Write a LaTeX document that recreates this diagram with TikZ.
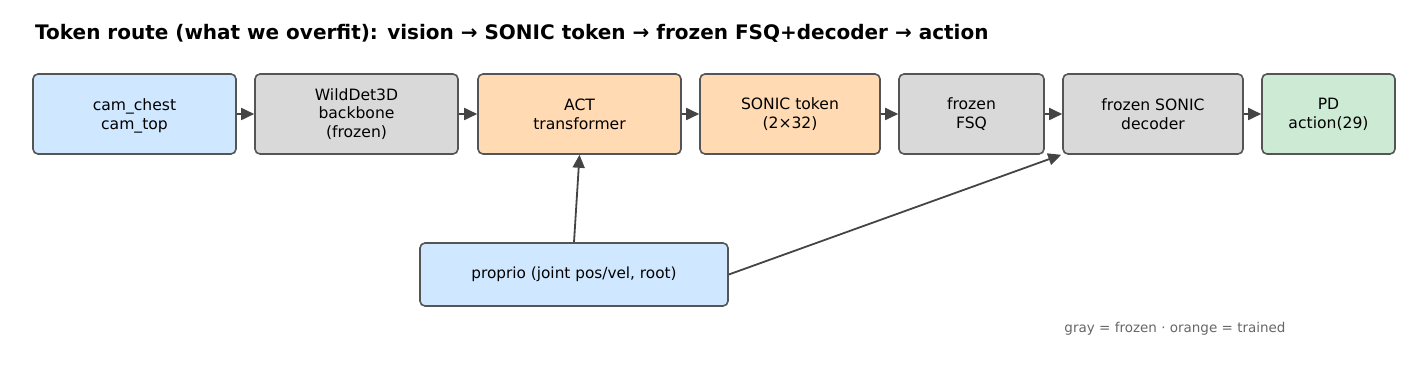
\documentclass[tikz,border=0pt]{standalone}
\usepackage{fontspec}
\setmainfont{DejaVu Sans}
\usepackage{xcolor}
\usetikzlibrary{arrows.meta}

\definecolor{camblue}{HTML}{CFE8FF}
\definecolor{frozgray}{HTML}{D9D9D9}
\definecolor{trainorange}{HTML}{FFDAB3}
\definecolor{actgreen}{HTML}{CDEBD4}
\definecolor{edgegray}{HTML}{555555}
\definecolor{arrowgray}{HTML}{444444}

\begin{document}
\begin{tikzpicture}[
  x=1pt, y=-1pt,
  >={Triangle[length=13pt,width=12pt]},
  font=\fontsize{15.6}{18.7}\selectfont,
  block/.style={draw=edgegray, line width=1.6pt, rounded corners=5pt, align=center,
    inner sep=0pt, minimum height=80pt},
  inbox/.style={block, fill=camblue},
  frozenbox/.style={block, fill=frozgray},
  trainbox/.style={block, fill=trainorange},
  outbox/.style={block, fill=actgreen},
  flow/.style={->, line width=1.8pt, arrowgray}
]
\useasboundingbox (0,0) rectangle (1427,371);

% Titel
\node[anchor=west, inner sep=0pt, font=\fontsize{20}{24}\selectfont\bfseries] (title) at (35,33)
  {Token route (what we overfit): vision → SONIC token → frozen FSQ+decoder → action};

% Kette der Bausteine
\node[inbox, minimum width=203pt, text depth=-2pt] (cam) at (134.5,114) {cam\_chest\\cam\_top};
\node[frozenbox, minimum width=203pt] (wild) at (356.5,114) {WildDet3D\\backbone\\(frozen)};
\node[trainbox, minimum width=203pt] (act) at (579.5,114) {ACT\\transformer};
\node[trainbox, minimum width=180pt] (tok) at (790,114) {SONIC token\\(2×32)};
\node[frozenbox, minimum width=145pt] (fsq) at (971.5,114) {frozen\\FSQ};
\node[frozenbox, minimum width=180pt] (dec) at (1153,114) {frozen SONIC\\decoder};
\node[outbox, minimum width=133pt] (pd) at (1328.5,114) {PD\\action(29)};

% Propriozeption
\node[inbox, minimum width=308pt, minimum height=63pt, font=\fontsize{15.3}{18}\selectfont] (prop) at (574,274.5)
  {proprio (joint pos/vel, root)};

% Pfeile
\draw[flow] (cam) -- (wild);
\draw[flow] (wild) -- (act);
\draw[flow] (act) -- (tok);
\draw[flow] (tok) -- (fsq);
\draw[flow] (fsq) -- (dec);
\draw[flow] (dec) -- (pd);
\draw[flow] (prop.north) -- (act.south);
\draw[flow] (prop.east) -- ([xshift=-1pt]dec.south west);

% Legende
\node[font=\fontsize{13.5}{16}\selectfont, text=black!60] (legend) at (1175,329)
  {gray = frozen · orange = trained};
\end{tikzpicture}
\end{document}
